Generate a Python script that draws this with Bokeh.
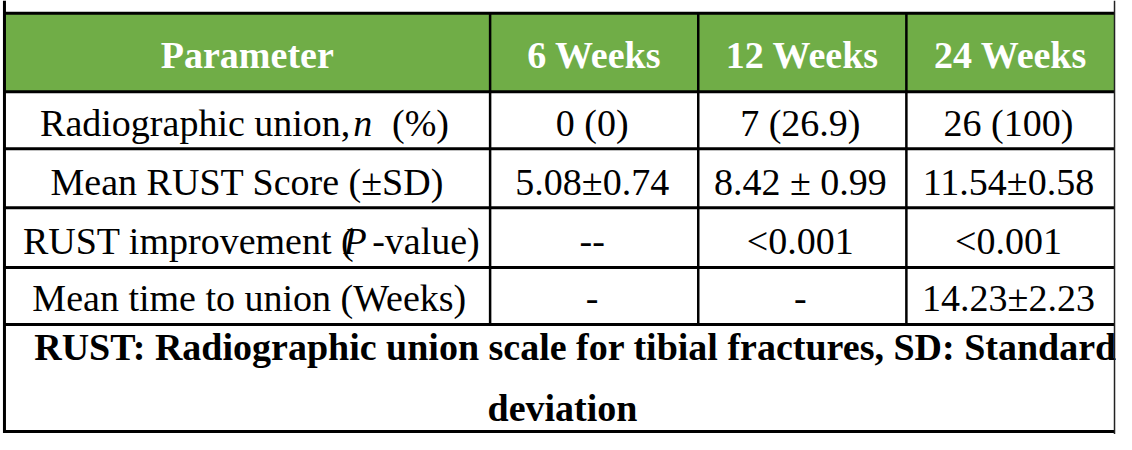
from bokeh.plotting import figure
from bokeh.models import Range1d
from bokeh.core.properties import value
from bokeh.embed import file_html
from bokeh.resources import INLINE

# ---- table content ----
columns = ["Parameter", "6 Weeks", "12 Weeks", "24 Weeks"]
param_plain = ["Mean RUST Score (\u00b1SD)", "Mean time to union (Weeks)"]
param_union = ["Radiographic union,", "n", "(%)"]
param_improve = ["RUST improvement (", "P", "-value)"]
week6 = ["0 (0)", "5.08\u00b10.74", "--", "-"]
week12 = ["7 (26.9)", "8.42 \u00b1 0.99", "<0.001", "-"]
week24 = ["26 (100)", "11.54\u00b10.58", "<0.001", "14.23\u00b12.23"]
footnote = ["RUST: Radiographic union scale for tibial fractures, SD: Standard", "deviation"]

# ---- layout (reference pixel coordinates) ----
col_edges = [4, 494, 704, 914, 1124]
row_edges = [13, 93, 151, 211, 272, 330, 439]
SHIFT = 12  # renderer baseline compensation
header_base = 68 - SHIFT
row_bases = [b - SHIFT for b in (137, 197, 257, 315)]
foot_bases = [b - SHIFT for b in (365, 427)]
FONT = value("Liberation Serif")
SIZE = "38px"
GREEN = "#70AD47"

p = figure(width=1116, height=434, x_range=Range1d(0, 1126), y_range=Range1d(442, 0),
           output_backend="svg", toolbar_location=None,
           x_axis_type=None, y_axis_type=None, min_border=0)
p.outline_line_color = None
p.background_fill_color = "white"
p.border_fill_color = "white"

# header background
p.quad(left=[col_edges[0]], right=[col_edges[-1]], top=[row_edges[0]], bottom=[row_edges[1]],
       fill_color=GREEN, line_color=None)

centers = [(col_edges[i] + col_edges[i + 1]) / 2 for i in range(4)]

# header texts
p.text(x=centers, y=[header_base] * 4, text=columns, text_font=FONT, text_font_size=SIZE,
       text_font_style="bold", text_color="white", text_align="center", text_baseline="alphabetic")

# data columns
for ci, col in enumerate([week6, week12, week24]):
    p.text(x=[centers[ci + 1] - 2] * len(col), y=row_bases, text=col, text_font=FONT,
           text_font_size=SIZE, text_color="black", text_align="center", text_baseline="alphabetic")

# parameter column: plain rows
p.text(x=[centers[0], centers[0] + 2], y=[row_bases[1], row_bases[3]], text=param_plain,
       text_font=FONT, text_font_size=SIZE, text_color="black", text_align="center",
       text_baseline="alphabetic")

# parameter rows with italic parts
def rich(parts, y, x_right, x_ital, x_tail):
    p.text(x=[x_right], y=[y], text=[parts[0]], text_font=FONT, text_font_size=SIZE,
           text_color="black", text_align="right", text_baseline="alphabetic")
    p.text(x=[x_ital], y=[y], text=[parts[1]], text_font=FONT, text_font_size=SIZE,
           text_font_style="italic", text_color="black", text_align="left", text_baseline="alphabetic")
    p.text(x=[x_tail], y=[y], text=[parts[2]], text_font=FONT, text_font_size=SIZE,
           text_color="black", text_align="left", text_baseline="alphabetic")

rich(param_union, row_bases[0], 353, 356, 395)
rich(param_improve, row_bases[2], 357, 346, 375)

# footnote
p.text(x=[34], y=[foot_bases[0]], text=[footnote[0]], text_font=FONT, text_font_size=SIZE,
       text_font_style="bold", text_color="black", text_align="left", text_baseline="alphabetic")
p.text(x=[567], y=[foot_bases[1]], text=[footnote[1]], text_font=FONT, text_font_size=SIZE,
       text_font_style="bold", text_color="black", text_align="center", text_baseline="alphabetic")

# grid lines
hy = row_edges
p.segment(x0=[col_edges[0]] * len(hy), x1=[col_edges[-1]] * len(hy), y0=hy, y1=hy,
          line_color="black", line_width=3)
inner = col_edges[1:-1]
p.segment(x0=inner, x1=inner, y0=[row_edges[0]] * 3, y1=[row_edges[5]] * 3,
          line_color="black", line_width=2.5)
p.segment(x0=[col_edges[0]], x1=[col_edges[0]], y0=[0], y1=[row_edges[-1] + 1.5],
          line_color="black", line_width=3)
p.segment(x0=[col_edges[-1]], x1=[col_edges[-1]], y0=[0], y1=[447],
          line_color="#222222", line_width=1.5)

open("out.html", "w").write(file_html(p, INLINE))
